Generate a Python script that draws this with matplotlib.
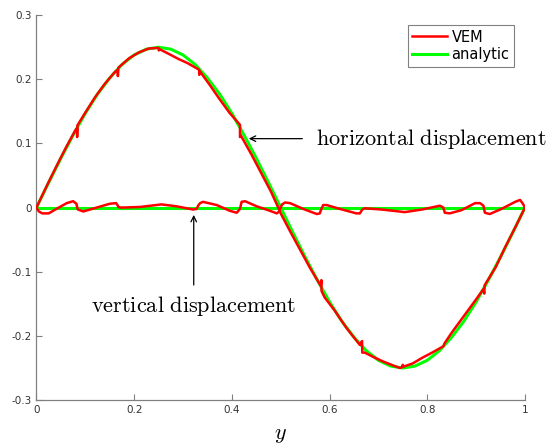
import matplotlib
matplotlib.use("Agg")
import matplotlib.pyplot as plt

plt.rcParams['mathtext.fontset'] = 'cm'

# analytic horizontal displacement, read at steps of 0.025
ana_x = [0, 0.025, 0.05, 0.075, 0.1, 0.125, 0.15, 0.175, 0.2, 0.225, 0.25,
         0.275, 0.3, 0.325, 0.35, 0.375, 0.4, 0.425, 0.45, 0.475, 0.5,
         0.525, 0.55, 0.575, 0.6, 0.625, 0.65, 0.675, 0.7, 0.725, 0.75,
         0.775, 0.8, 0.825, 0.85, 0.875, 0.9, 0.925, 0.95, 0.975, 1.0]
ana_h = [0, 0.039, 0.077, 0.113, 0.147, 0.177, 0.202, 0.223, 0.238, 0.247, 0.25,
         0.247, 0.238, 0.223, 0.202, 0.177, 0.147, 0.113, 0.077, 0.039, 0,
         -0.039, -0.077, -0.113, -0.147, -0.177, -0.202, -0.223, -0.238, -0.247, -0.25,
         -0.247, -0.238, -0.223, -0.202, -0.177, -0.147, -0.113, -0.077, -0.039, 0]
ana_v_x = [0, 1]
ana_v = [0, 0]

# VEM horizontal displacement
vem_h_x = [0, 0.02, 0.04, 0.06, 0.08, 0.0833, 0.0833, 0.0838,
           0.1, 0.12, 0.14, 0.16, 0.1667, 0.1667, 0.1675,
           0.19, 0.21, 0.23, 0.25, 0.2505, 0.252,
           0.27, 0.29, 0.31, 0.333, 0.3333, 0.335,
           0.355, 0.375, 0.395, 0.4167, 0.4167, 0.418,
           0.44, 0.46, 0.48, 0.495, 0.5,
           0.52, 0.54, 0.56, 0.582, 0.5833, 0.5836, 0.59,
           0.61, 0.635, 0.662, 0.6665, 0.667, 0.672,
           0.69, 0.71, 0.73, 0.744, 0.748, 0.75, 0.751,
           0.77, 0.79, 0.81, 0.8333, 0.835,
           0.85, 0.875, 0.9, 0.915, 0.9167, 0.9175,
           0.94, 0.96, 0.98, 1.0]
vem_h = [0, 0.032, 0.063, 0.093, 0.121, 0.124, 0.110, 0.128,
         0.148, 0.172, 0.193, 0.211, 0.215, 0.205, 0.218,
         0.233, 0.242, 0.248, 0.249, 0.245, 0.247,
         0.240, 0.232, 0.225, 0.215, 0.207, 0.212,
         0.191, 0.169, 0.148, 0.129, 0.110, 0.113,
         0.083, 0.054, 0.025, 0.0, -0.009,
         -0.038, -0.066, -0.094, -0.122, -0.113, -0.130, -0.140,
         -0.160, -0.188, -0.214, -0.208, -0.226, -0.226,
         -0.233, -0.240, -0.246, -0.250, -0.249, -0.245, -0.248,
         -0.243, -0.234, -0.226, -0.216, -0.212,
         -0.195, -0.169, -0.143, -0.127, -0.134, -0.121,
         -0.093, -0.061, -0.031, 0.0]

# VEM vertical displacement
vem_v_x = [0, 0.005, 0.012, 0.025, 0.041, 0.062, 0.075, 0.082, 0.0835, 0.085, 0.096,
           0.123, 0.150, 0.163, 0.1667, 0.1675, 0.173, 0.212, 0.256, 0.287, 0.321,
           0.328, 0.331, 0.335, 0.341, 0.369, 0.396, 0.410, 0.4166, 0.42, 0.427,
           0.451, 0.478, 0.492, 0.497, 0.5, 0.503, 0.509, 0.519, 0.546, 0.574,
           0.580, 0.5833, 0.587, 0.594, 0.621, 0.655, 0.662, 0.667, 0.672, 0.707,
           0.754, 0.789, 0.826, 0.833, 0.836, 0.846, 0.870, 0.898, 0.908, 0.915,
           0.918, 0.928, 0.952, 0.980, 0.990, 0.9966, 1.0]
vem_v = [0, -0.006, -0.009, -0.009, -0.002, 0.007, 0.010, 0.006, 0.0, -0.003, -0.006,
         0.0, 0.006, 0.007, 0.003, 0.001, 0.0, 0.001, 0.005, 0.002, -0.003,
         -0.002, 0.003, 0.007, 0.009, 0.004, -0.005, -0.008, -0.002, 0.009, 0.010,
         0.002, -0.005, -0.009, -0.006, 0.0, 0.005, 0.008, 0.007, -0.002, -0.010,
         -0.009, -0.002, 0.004, 0.004, -0.002, -0.009, -0.009, -0.003, -0.001, -0.003,
         -0.007, -0.003, 0.003, 0.0, -0.008, -0.009, -0.004, 0.007, 0.007, 0.003,
         -0.008, -0.010, -0.002, 0.009, 0.012, 0.005, 0.0]

fig = plt.figure(figsize=(5.52, 4.46), dpi=100)
ax = fig.add_axes([0.066, 0.103, 0.885, 0.863])

ax.plot(ana_x, ana_h, color=(0, 1, 0), lw=2.2, zorder=2)
ax.plot(ana_v_x, ana_v, color=(0, 1, 0), lw=2.2, zorder=2)
l_vem, = ax.plot(vem_h_x, vem_h, color=(1, 0, 0), lw=1.8, zorder=3)
ax.plot(vem_v_x, vem_v, color=(1, 0, 0), lw=1.8, zorder=3)
l_ana, = ax.plot([], [], color=(0, 1, 0), lw=2.2)

ax.set_xlim(0, 1)
ax.set_ylim(-0.3, 0.3)
ax.set_xticks([0, 0.2, 0.4, 0.6, 0.8, 1])
ax.set_xticklabels(['0', '0.2', '0.4', '0.6', '0.8', '1'])
ax.set_yticks([-0.3, -0.2, -0.1, 0, 0.1, 0.2, 0.3])
ax.set_yticklabels(['-0.3', '-0.2', '-0.1', '0', '0.1', '0.2', '0.3'])
ax.tick_params(direction='in', length=4, width=0.8, color='#808080',
               labelcolor='#333333', labelsize=7.5)
for s in ['top', 'right']:
    ax.spines[s].set_visible(False)
for s in ['left', 'bottom']:
    ax.spines[s].set_color('#808080')
    ax.spines[s].set_linewidth(0.9)

ax.set_xlabel(r'$y$', fontsize=16, labelpad=7)

leg = ax.legend([l_vem, l_ana], ['VEM', 'analytic'], loc='upper right',
                bbox_to_anchor=(0.9775, 0.974), borderaxespad=0, fontsize=10.5,
                fancybox=False, handlelength=2.4, handletextpad=0.3,
                borderpad=0.3, labelspacing=0.2, framealpha=1)
leg.get_frame().set_edgecolor('#808080')
leg.get_frame().set_linewidth(0.8)

ax.annotate('', xy=(0.429, 0.1075), xytext=(0.55, 0.1075),
            arrowprops=dict(arrowstyle='->', lw=0.9, color='k'))
ax.text(0.572, 0.107, r'$\mathrm{horizontal\ displacement}$', fontsize=16,
        ha='left', va='center')
ax.annotate('', xy=(0.322, -0.007), xytext=(0.322, -0.125),
            arrowprops=dict(arrowstyle='->', lw=0.9, color='k'))
ax.text(0.321, -0.153, r'$\mathrm{vertical\ displacement}$', fontsize=16,
        ha='center', va='center')

fig.savefig('out.png', dpi=100)
